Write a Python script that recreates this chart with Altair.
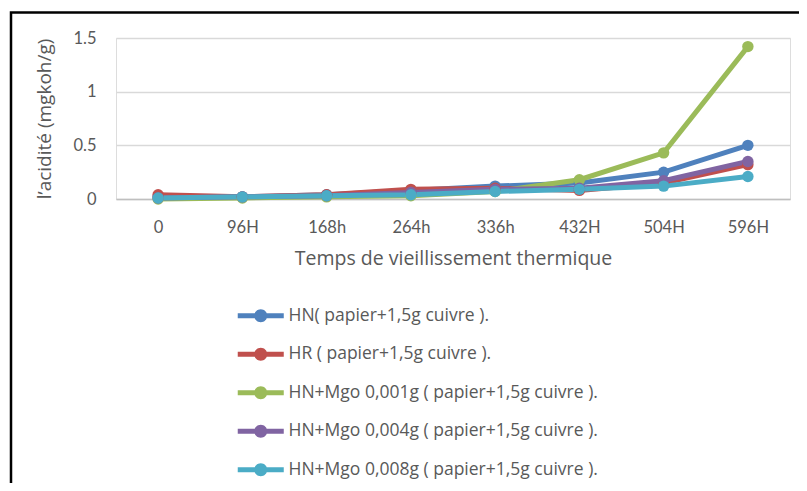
import altair as alt
import pandas as pd

categories = ["0", "96H", "168h", "264h", "336h", "432H", "504H", "596H"]
series_names = [
    "HN( papier+1,5g cuivre ).",
    "HR ( papier+1,5g cuivre ).",
    "HN+Mgo 0,001g ( papier+1,5g cuivre ).",
    "HN+Mgo 0,004g ( papier+1,5g cuivre ).",
    "HN+Mgo 0,008g ( papier+1,5g cuivre ).",
]
hn = [0.02, 0.02, 0.04, 0.08, 0.12, 0.15, 0.25, 0.50]
hr = [0.04, 0.02, 0.04, 0.09, 0.10, 0.08, 0.15, 0.32]
mgo_001 = [0.00, 0.01, 0.02, 0.03, 0.07, 0.18, 0.43, 1.42]
mgo_004 = [0.01, 0.02, 0.03, 0.06, 0.09, 0.10, 0.17, 0.35]
mgo_008 = [0.01, 0.02, 0.03, 0.04, 0.07, 0.09, 0.12, 0.21]
colors = ["#4F81BD", "#C0504D", "#9BBB59", "#8064A2", "#4BACC6"]

rows = []
for si, (name, vals) in enumerate(zip(series_names, [hn, hr, mgo_001, mgo_004, mgo_008])):
    for c, v in zip(categories, vals):
        rows.append({"temps": c, "acidite": v, "serie": name, "ordre": si})
df = pd.DataFrame(rows)

TICKFONT = "Lato"
FONT = "Open Sans"
TXT = "#595959"

sym_path = ("M -3.54 -0.385 L 3.54 -0.385 L 3.54 0.385 L -3.54 0.385 Z "
            "M 0 -1 A 1 1 0 1 1 0 1 A 1 1 0 1 1 0 -1 Z")

x_enc = alt.X("temps:N", sort=categories, scale=alt.Scale(padding=0.5),
              axis=alt.Axis(title="Temps de vieillissement thermique", labelAngle=0, ticks=False,
                            domainColor="#bfbfbf", domainWidth=1.5, labelPadding=20,
                            labelFontSize=16.5, labelColor=TXT, titleFontSize=19.5, titleColor=TXT,
                            titleFontWeight="normal", titlePadding=14, labelFont=TICKFONT, titleFont=FONT))
y_enc = alt.Y("acidite:Q", scale=alt.Scale(domain=[0, 1.5], nice=False),
              axis=alt.Axis(title="l’acidité (mgkoh/g)", values=[0, 0.5, 1, 1.5], labelExpr="datum.value",
                            domain=False, ticks=False, gridColor="#d9d9d9", gridWidth=1.5,
                            labelPadding=20, labelFontSize=16.5, labelColor=TXT, titleFontSize=19,
                            titleColor=TXT, titleFontWeight="normal", titlePadding=18.5,
                            labelFont=TICKFONT, titleFont=FONT))
color_enc = alt.Color("serie:N", sort=series_names,
                      scale=alt.Scale(domain=series_names, range=colors),
                      legend=alt.Legend(title=None, orient="none", legendX=136, legendY=269,
                                        direction="vertical", symbolType=sym_path, symbolSize=169,
                                        symbolStrokeWidth=0, labelOffset=19, rowPadding=19.5,
                                        labelFontSize=17.5, labelColor=TXT, labelFont=FONT,
                                        padding=0, labelLimit=500))

base = alt.Chart(df)
lines = base.mark_line(strokeWidth=5).encode(x=x_enc, y=y_enc, color=color_enc, order="ordre:Q")
points = base.mark_point(filled=True, size=130, opacity=1).encode(x=x_enc, y=y_enc, color=color_enc)

frame = alt.Chart(pd.DataFrame({"a": [0]})).mark_rect(
    filled=False, stroke="black", strokeWidth=2.5, fill=None
).encode(x=alt.value(-105), x2=alt.value(720), y=alt.value(-25.5), y2=alt.value(500))

chart = alt.layer(frame, lines, points).properties(
    width=674, height=161,
    autosize=alt.AutoSizeParams(type="none"),
    padding={"left": 108, "top": 30, "right": 9, "bottom": 284},
).configure_view(stroke="#e3e3e3", strokeWidth=1.5).configure(background="white")

chart.save("out.html", embed_options={"renderer": "svg", "actions": False})
